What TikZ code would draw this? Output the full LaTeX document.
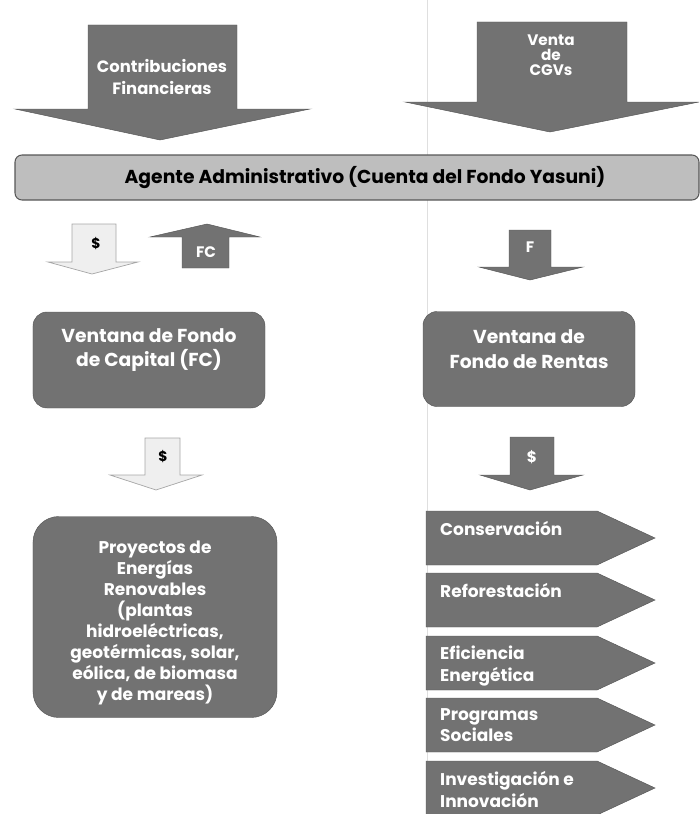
\documentclass[tikz,border=0pt]{standalone}
\usepackage{fontspec}
\setmainfont{Poppins}
\usetikzlibrary{positioning}

\definecolor{panel}{HTML}{727272}
\definecolor{panelline}{HTML}{575757}
\definecolor{barfill}{HTML}{BEBEBE}
\definecolor{pale}{HTML}{EFEFEF}

\begin{document}
\begin{tikzpicture}[x=0.03cm,y=-0.03cm,
  box/.style={draw=panelline,fill=panel,rounded corners=12pt},
  boxtext/.style={text=white,font=\bfseries\fontsize{16}{21}\selectfont,align=center},
  bar/.style={draw=panelline,line width=0.9pt,fill=barfill,rounded corners=6pt},
  darkarrow/.style={fill=panel,draw=panelline,line width=0.4pt},
  palearrow/.style={fill=pale,draw=gray!70,line width=0.6pt},
  arrowtext/.style={text=white,font=\bfseries\fontsize{13}{13}\selectfont,align=center},
  tagtext/.style={text=white,font=\bfseries\fontsize{14.5}{18.5}\selectfont,align=left,
    anchor=north west,inner sep=0pt}]
  \useasboundingbox (0,0) rectangle (699,814);
  % divider between the two columns
  \draw[gray!25,line width=0.8pt] (427,0) -- (427,814);
  % large inflow arrows
  \draw[darkarrow] (88,25) -- (237,25) -- (237,109) -- (310,109) -- (160,140)
    -- (15,109) -- (88,109) -- cycle;
  \node[arrowtext,font=\bfseries\fontsize{14}{18}\selectfont] (contrib) at (162,77)
    {Contribuciones\\Financieras};
  \draw[darkarrow] (477,22) -- (627,22) -- (627,102) -- (699,102) -- (550,132)
    -- (405,102) -- (477,102) -- cycle;
  \node[arrowtext] (venta) at (551,55) {Venta\\de\\CGVs};
  % administrative agent
  \draw[bar] (15,155) rectangle (699,200);
  \node[font=\bfseries\fontsize{16}{18}\selectfont] (agente) at (365,178)
    {Agente Administrativo (Cuenta del Fondo Yasuni)};
  % small arrows below the agent
  \draw[palearrow] (72,224) -- (116,224) -- (116,262) -- (138,262) -- (92,274)
    -- (48,262) -- (72,262) -- cycle;
  \node[font=\bfseries\fontsize{12}{12}\selectfont] (dinero1) at (96,244) {\$};
  \draw[darkarrow] (182,268) -- (229,268) -- (229,237) -- (260,237) -- (207,224)
    -- (150,237) -- (182,237) -- cycle;
  \node[arrowtext] (fc) at (206,252) {FC};
  \draw[darkarrow] (509,230) -- (551,230) -- (551,267) -- (583,267) -- (530,280)
    -- (479,267) -- (509,267) -- cycle;
  \node[arrowtext] (f) at (530,247) {F};
  % the two windows
  \node[box,minimum width=6.96cm,minimum height=2.88cm] (capital) at (149,360) {};
  \node[boxtext] (capitaltxt) at (149,350) {Ventana de Fondo\\de Capital (FC)};
  \node[box,minimum width=6.36cm,minimum height=2.85cm] (rentas) at (529,359) {};
  \node[boxtext] (rentastxt) at (529,349) {Ventana de\\Fondo de Rentas};
  % arrows below the windows
  \draw[palearrow] (145,438) -- (180,438) -- (180,475) -- (202,475) -- (156,490)
    -- (110,475) -- (145,475) -- cycle;
  \node[font=\bfseries\fontsize{12}{12}\selectfont] (dinero2) at (163,457) {\$};
  \draw[darkarrow] (510,437) -- (554,437) -- (554,475) -- (583,475) -- (530,490)
    -- (480,475) -- (510,475) -- cycle;
  \node[arrowtext] (dinero3) at (532,457) {\$};
  % renewable energy projects
  \node[box,rounded corners=22pt,minimum width=7.32cm,minimum height=6.03cm]
    (proyectos) at (155,617) {};
  \node[boxtext,font=\bfseries\fontsize{14.5}{18}\selectfont] (proyectostxt) at (155,623)
    {Proyectos de\\Energías\\Renovables\\(plantas\\hidroeléctricas,\\geotérmicas, solar,\\eólica, de biomasa\\y de mareas)};
  % destinations of the rent window
  \foreach \y/\txt [count=\i] in {511/Conservación,573/Reforestación,
      636/{Eficiencia\\Energética},698/{Programas\\Sociales},
      761/{Investigación e\\Innovación}}{
    \draw[darkarrow] (426,\y) -- (597,\y) -- (655,\y+27) -- (597,\y+54)
      -- (426,\y+54) -- cycle;
    \node[tagtext] (uso\i) at (440,\y+10) {\txt};
  }
\end{tikzpicture}
\end{document}
